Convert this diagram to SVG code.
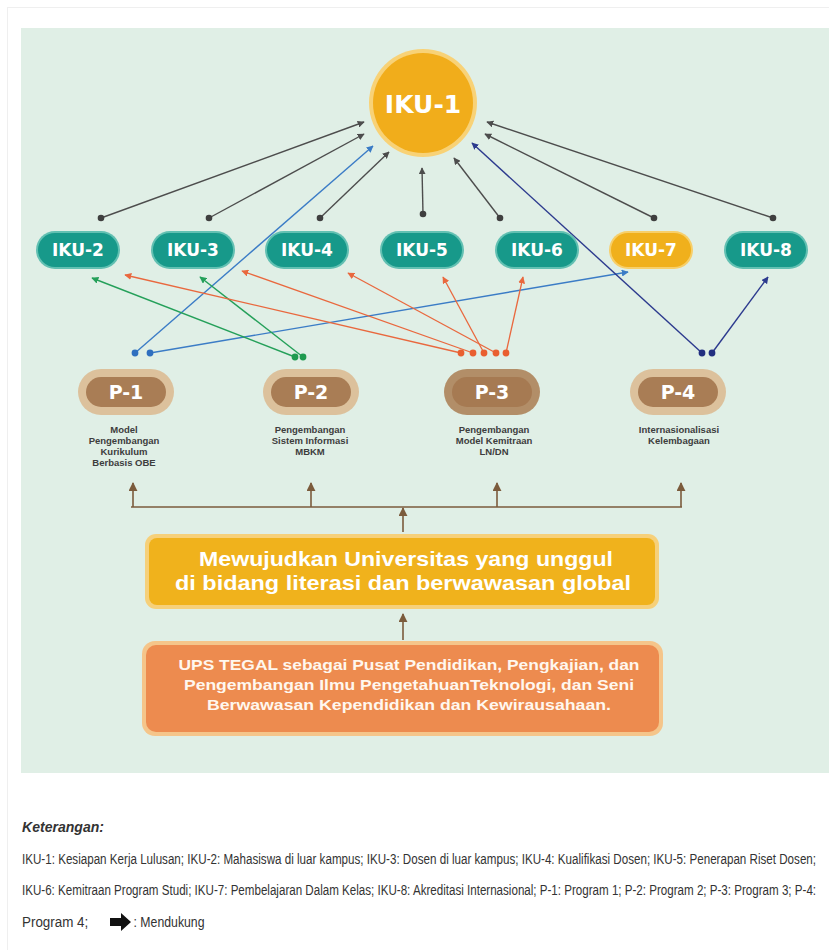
<svg xmlns="http://www.w3.org/2000/svg" width="829" height="950" viewBox="0 0 829 950">
<defs>
<style>
.iku{font-family:"DejaVu Sans","Liberation Sans",sans-serif;font-weight:bold;font-size:17px;fill:#ffffff;text-anchor:middle}
.pl{font-family:"DejaVu Sans","Liberation Sans",sans-serif;font-weight:bold;font-size:19px;fill:#ffffff;text-anchor:middle}
.desc{font-family:"Liberation Sans",Arial,sans-serif;font-weight:bold;font-size:9.5px;fill:#3d3d3d;text-anchor:middle}
.big{font-family:"Liberation Sans",Arial,sans-serif;font-weight:bold;font-size:21px;fill:#ffffff;text-anchor:middle}
.mid{font-family:"Liberation Sans",Arial,sans-serif;font-weight:bold;font-size:15px;fill:#fff7ee;text-anchor:middle}
.leg{font-family:"Liberation Sans",Arial,sans-serif;font-size:15px;fill:#333333}
.gray{stroke:#4d4d4d;stroke-width:1.4;fill:none}
.blue{stroke:#3b7cc6;stroke-width:1.4;fill:none}
.green{stroke:#25a05a;stroke-width:1.4;fill:none}
.orange{stroke:#e9683e;stroke-width:1.3;fill:none}
.navy{stroke:#2c3a8e;stroke-width:1.4;fill:none}
.brown{stroke:#7b5b3c;stroke-width:1.6;fill:none}
.tealring{fill:#62c0b2}
.teal{fill:#17998a}
.goldring{fill:#f7cf6a}
.gold{fill:#f0b01c}
</style>
<marker id="mGray" viewBox="0 0 10 10" refX="9" refY="5" markerWidth="7" markerHeight="7" markerUnits="userSpaceOnUse" orient="auto"><path d="M0,0 L10,5 L0,10 z" fill="#4d4d4d"/></marker>
<marker id="mBlue" viewBox="0 0 10 10" refX="9" refY="5" markerWidth="7" markerHeight="7" markerUnits="userSpaceOnUse" orient="auto"><path d="M0,0 L10,5 L0,10 z" fill="#3b7cc6"/></marker>
<marker id="mGreen" viewBox="0 0 10 10" refX="9" refY="5" markerWidth="7" markerHeight="7" markerUnits="userSpaceOnUse" orient="auto"><path d="M0,0 L10,5 L0,10 z" fill="#25a05a"/></marker>
<marker id="mOrange" viewBox="0 0 10 10" refX="9" refY="5" markerWidth="7" markerHeight="7" markerUnits="userSpaceOnUse" orient="auto"><path d="M0,0 L10,5 L0,10 z" fill="#e9683e"/></marker>
<marker id="mNavy" viewBox="0 0 10 10" refX="9" refY="5" markerWidth="7" markerHeight="7" markerUnits="userSpaceOnUse" orient="auto"><path d="M0,0 L10,5 L0,10 z" fill="#2c3a8e"/></marker>
<marker id="mBrown" viewBox="0 0 10 10" refX="9" refY="5" markerWidth="9" markerHeight="9" markerUnits="userSpaceOnUse" orient="auto"><path d="M0,0 L10,5 L0,10 z" fill="#7b5b3c"/></marker>
</defs>

<rect x="0" y="0" width="829" height="950" fill="#ffffff"/>
<rect x="7.5" y="7.5" width="840" height="960" fill="none" stroke="#efefef" stroke-width="1"/>
<rect x="21" y="28" width="808" height="745" fill="#e0efe6"/>

<g id="connectors">
  <g id="c-gray">
    <line class="gray" x1="101" y1="218" x2="364" y2="122" marker-end="url(#mGray)"/>
    <line class="gray" x1="209" y1="218" x2="364" y2="134" marker-end="url(#mGray)"/>
    <line class="gray" x1="320" y1="218" x2="389" y2="152" marker-end="url(#mGray)"/>
    <line class="gray" x1="423" y1="214" x2="422" y2="168" marker-end="url(#mGray)"/>
    <line class="gray" x1="500" y1="218" x2="454" y2="158" marker-end="url(#mGray)"/>
    <line class="gray" x1="654" y1="218" x2="485" y2="134" marker-end="url(#mGray)"/>
    <line class="gray" x1="773" y1="218" x2="487" y2="122" marker-end="url(#mGray)"/>
    <g fill="#3f3f3f">
      <circle cx="101" cy="218" r="3.3"/><circle cx="209" cy="218" r="3.3"/><circle cx="320" cy="218" r="3.3"/>
      <circle cx="423" cy="214" r="3.3"/><circle cx="500" cy="218" r="3.3"/><circle cx="654" cy="218" r="3.3"/>
      <circle cx="773" cy="218" r="3.3"/>
    </g>
  </g>
  <g id="c-p1">
    <line class="blue" x1="135" y1="353" x2="373" y2="146" marker-end="url(#mBlue)"/>
    <line class="blue" x1="150" y1="353" x2="628" y2="272" marker-end="url(#mBlue)"/>
    <circle cx="135" cy="353" r="3.4" fill="#2f6fbf"/><circle cx="150" cy="353" r="3.4" fill="#2f6fbf"/>
  </g>
  <g id="c-p2">
    <line class="green" x1="295" y1="357" x2="92" y2="278" marker-end="url(#mGreen)"/>
    <line class="green" x1="303" y1="357" x2="200" y2="277" marker-end="url(#mGreen)"/>
    <circle cx="295" cy="357" r="3.4" fill="#1e9a4f"/><circle cx="303" cy="357" r="3.4" fill="#1e9a4f"/>
  </g>
  <g id="c-p3">
    <line class="orange" x1="461" y1="353" x2="125" y2="275" marker-end="url(#mOrange)"/>
    <line class="orange" x1="473" y1="353" x2="242" y2="271" marker-end="url(#mOrange)"/>
    <line class="orange" x1="496" y1="353" x2="348" y2="273" marker-end="url(#mOrange)"/>
    <line class="orange" x1="484" y1="353" x2="443" y2="277" marker-end="url(#mOrange)"/>
    <line class="orange" x1="506" y1="353" x2="523" y2="277" marker-end="url(#mOrange)"/>
    <g fill="#e95f30">
      <circle cx="461" cy="353" r="3.4"/><circle cx="473" cy="353" r="3.4"/><circle cx="484" cy="353" r="3.4"/>
      <circle cx="496" cy="353" r="3.4"/><circle cx="506" cy="353" r="3.4"/>
    </g>
  </g>
  <g id="c-p4">
    <line class="navy" x1="702" y1="353" x2="472" y2="143" marker-end="url(#mNavy)"/>
    <line class="navy" x1="712" y1="353" x2="768" y2="277" marker-end="url(#mNavy)"/>
    <circle cx="702" cy="353" r="3.4" fill="#222f80"/><circle cx="712" cy="353" r="3.4" fill="#222f80"/>
  </g>
  <g id="c-brown">
    <polyline class="brown" points="131,507 682,507"/>
    <line class="brown" x1="133" y1="507" x2="133" y2="483" marker-end="url(#mBrown)"/>
    <line class="brown" x1="311" y1="507" x2="311" y2="483" marker-end="url(#mBrown)"/>
    <line class="brown" x1="497" y1="507" x2="497" y2="483" marker-end="url(#mBrown)"/>
    <line class="brown" x1="681" y1="507" x2="681" y2="483" marker-end="url(#mBrown)"/>
    <line class="brown" x1="403" y1="532" x2="403" y2="508" marker-end="url(#mBrown)"/>
    <line class="brown" x1="403" y1="640" x2="403" y2="614" marker-end="url(#mBrown)"/>
  </g>
</g>

<g id="iku1">
  <circle cx="423" cy="103" r="54" fill="#f8d277"/>
  <circle cx="423" cy="103" r="50" fill="#f1ad1b"/>
  <text x="423" y="113" class="big" style="font-family:'DejaVu Sans','Liberation Sans',sans-serif;font-size:25px">IKU-1</text>
</g>

<g id="iku2"><rect x="36" y="231" width="84" height="38" rx="19" class="tealring"/><rect x="38" y="233" width="80" height="34" rx="17" class="teal"/><text x="78" y="256" class="iku">IKU-2</text></g>
<g id="iku3"><rect x="151" y="231" width="84" height="38" rx="19" class="tealring"/><rect x="153" y="233" width="80" height="34" rx="17" class="teal"/><text x="193" y="256" class="iku">IKU-3</text></g>
<g id="iku4"><rect x="265" y="231" width="84" height="38" rx="19" class="tealring"/><rect x="267" y="233" width="80" height="34" rx="17" class="teal"/><text x="307" y="256" class="iku">IKU-4</text></g>
<g id="iku5"><rect x="380" y="231" width="84" height="38" rx="19" class="tealring"/><rect x="382" y="233" width="80" height="34" rx="17" class="teal"/><text x="422" y="256" class="iku">IKU-5</text></g>
<g id="iku6"><rect x="495" y="231" width="84" height="38" rx="19" class="tealring"/><rect x="497" y="233" width="80" height="34" rx="17" class="teal"/><text x="537" y="256" class="iku">IKU-6</text></g>
<g id="iku7"><rect x="609" y="231" width="84" height="38" rx="19" class="goldring"/><rect x="611" y="233" width="80" height="34" rx="17" class="gold"/><text x="651" y="256" class="iku">IKU-7</text></g>
<g id="iku8"><rect x="724" y="231" width="84" height="38" rx="19" class="tealring"/><rect x="726" y="233" width="80" height="34" rx="17" class="teal"/><text x="766" y="256" class="iku">IKU-8</text></g>

<g id="p1">
  <rect x="78" y="369" width="96" height="46" rx="23" fill="#dcc19c"/>
  <rect x="86" y="377" width="80" height="30" rx="15" fill="#a97d55"/>
  <text x="126" y="399" class="pl">P-1</text>
  <text class="desc"><tspan x="124" y="433">Model</tspan><tspan x="124" y="444">Pengembangan</tspan><tspan x="124" y="455">Kurikulum</tspan><tspan x="124" y="466">Berbasis OBE</tspan></text>
</g>
<g id="p2">
  <rect x="263" y="369" width="96" height="46" rx="23" fill="#dcc19c"/>
  <rect x="271" y="377" width="80" height="30" rx="15" fill="#a97d55"/>
  <text x="311" y="399" class="pl">P-2</text>
  <text class="desc"><tspan x="310" y="433">Pengembangan</tspan><tspan x="310" y="444">Sistem Informasi</tspan><tspan x="310" y="455">MBKM</tspan></text>
</g>
<g id="p3">
  <rect x="444" y="369" width="96" height="46" rx="23" fill="#b28e68"/>
  <rect x="452" y="377" width="80" height="30" rx="15" fill="#a67a52"/>
  <text x="492" y="399" class="pl">P-3</text>
  <text class="desc"><tspan x="494" y="433">Pengembangan</tspan><tspan x="494" y="444">Model Kemitraan</tspan><tspan x="494" y="455">LN/DN</tspan></text>
</g>
<g id="p4">
  <rect x="630" y="369" width="96" height="46" rx="23" fill="#dcc19c"/>
  <rect x="638" y="377" width="80" height="30" rx="15" fill="#a97d55"/>
  <text x="678" y="399" class="pl">P-4</text>
  <text class="desc"><tspan x="679" y="433">Internasionalisasi</tspan><tspan x="679" y="444">Kelembagaan</tspan></text>
</g>

<g id="visi">
  <rect x="145" y="534" width="514" height="75" rx="11" fill="#f6d07a"/>
  <rect x="149" y="538" width="506" height="67" rx="8" fill="#f0b21c"/>
  <text x="406" y="566" class="big" textLength="414" lengthAdjust="spacingAndGlyphs">Mewujudkan Universitas yang unggul</text>
  <text x="403" y="590" class="big" textLength="456" lengthAdjust="spacingAndGlyphs">di bidang literasi dan berwawasan global</text>
</g>

<g id="misi">
  <rect x="142" y="641" width="521" height="95" rx="13" fill="#f5c58a"/>
  <rect x="146" y="645" width="513" height="87" rx="10" fill="#ed8b4f"/>
  <text x="409" y="670" class="mid" textLength="461" lengthAdjust="spacingAndGlyphs">UPS TEGAL sebagai Pusat Pendidikan, Pengkajian, dan</text>
  <text x="409" y="690" class="mid" textLength="450" lengthAdjust="spacingAndGlyphs">Pengembangan Ilmu PengetahuanTeknologi, dan Seni</text>
  <text x="409" y="710" class="mid" textLength="404" lengthAdjust="spacingAndGlyphs">Berwawasan Kependidikan dan Kewirausahaan.</text>
</g>

<g id="legend">
  <text x="22" y="832" class="leg" style="font-weight:bold;font-style:italic" textLength="82" lengthAdjust="spacingAndGlyphs">Keterangan:</text>
  <g transform="translate(22,0) scale(0.78,1)">
    <text x="0" y="864" class="leg" textLength="1018" lengthAdjust="spacingAndGlyphs">IKU-1: Kesiapan Kerja Lulusan; IKU-2: Mahasiswa di luar kampus; IKU-3: Dosen di luar kampus; IKU-4: Kualifikasi Dosen; IKU-5: Penerapan Riset Dosen;</text>
    <text x="0" y="895" class="leg" textLength="1018" lengthAdjust="spacingAndGlyphs">IKU-6: Kemitraan Program Studi; IKU-7: Pembelajaran Dalam Kelas; IKU-8: Akreditasi Internasional; P-1: Program 1; P-2: Program 2; P-3: Program 3; P-4:</text>
    <text x="0" y="927" class="leg" textLength="85" lengthAdjust="spacingAndGlyphs">Program 4;</text>
    <text x="143" y="927" class="leg" textLength="91" lengthAdjust="spacingAndGlyphs">: Mendukung</text>
  </g>
  <path d="M110,918 L121,918 L121,913 L131,922 L121,931 L121,926 L110,926 z" fill="#111111"/>
</g>
</svg>
